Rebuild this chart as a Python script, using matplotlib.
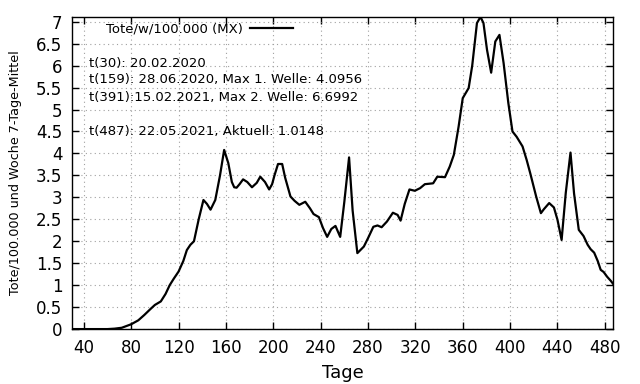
import matplotlib
matplotlib.use('Agg')
import matplotlib.pyplot as plt

days = [30, 60, 66, 72, 80, 86, 91, 96, 100, 105, 109, 112.5, 116, 120, 124, 127, 130, 133,
        137, 141, 144, 147, 151, 155, 158.5, 162, 165, 167, 169, 171.5, 174.5, 178, 182,
        186, 189, 193, 196.5, 199, 201, 204, 207.5, 210, 214.5, 218, 222, 227, 231, 234,
        238.5, 242, 245.5, 249, 252.5, 256.5, 260, 264, 267, 271, 276.5, 280, 284.5, 288,
        291.5, 296, 301, 305, 307.5, 311, 315, 319.5, 324, 328, 335, 338.5, 345, 349, 352.5,
        356.5, 360, 365, 368, 372, 375, 377.5, 380.5, 384, 387.5, 391, 394.5, 398.5, 402,
        405.5, 410.5, 414, 417, 422, 426, 428.5, 433, 437, 440, 443.5, 447, 451, 454, 458,
        462, 465.5, 468, 471, 474, 476.5, 479, 482, 485, 487]
deaths = [0.0, 0.0, 0.01, 0.03, 0.11, 0.2, 0.32, 0.45, 0.55, 0.63, 0.8, 1.0, 1.15, 1.31,
          1.55, 1.8, 1.92, 2.0, 2.5, 2.94, 2.85, 2.72, 2.94, 3.5, 4.08, 3.78, 3.35, 3.23,
          3.22, 3.3, 3.41, 3.35, 3.23, 3.33, 3.47, 3.35, 3.18, 3.3, 3.5, 3.76, 3.76, 3.45,
          3.02, 2.92, 2.83, 2.9, 2.75, 2.62, 2.55, 2.3, 2.1, 2.28, 2.35, 2.1, 2.9, 3.91,
          2.7, 1.73, 1.88, 2.07, 2.33, 2.36, 2.32, 2.45, 2.65, 2.6, 2.47, 2.85, 3.18, 3.15,
          3.21, 3.3, 3.32, 3.47, 3.46, 3.7, 3.97, 4.61, 5.26, 5.49, 6.0, 6.97, 7.11, 6.97,
          6.36, 5.84, 6.55, 6.7, 6.06, 5.15, 4.5, 4.38, 4.16, 3.85, 3.55, 3.02, 2.64, 2.73,
          2.87, 2.77, 2.49, 2.03, 3.1, 4.02, 3.09, 2.26, 2.12, 1.92, 1.82, 1.74, 1.55, 1.35,
          1.3, 1.19, 1.1, 1.03]

notes = ["t(30): 20.02.2020",
         "t(159): 28.06.2020, Max 1. Welle: 4.0956",
         "t(391):15.02.2021, Max 2. Welle: 6.6992",
         "t(487): 22.05.2021, Aktuell: 1.0148"]
note_y = [0.85, 0.798, 0.742, 0.632]

fig = plt.figure(figsize=(6.4, 3.84), dpi=100)
ax = fig.add_axes([0.1125, 0.143, 0.8455, 0.813])

ax.plot(days, deaths, color='black', lw=1.6, label='Tote/w/100.000 (MX)')

ax.set_xlim(30, 487)
ax.set_ylim(0, 7.11)
ax.set_xticks(range(40, 481, 40))
yt = [i * 0.5 for i in range(15)]
ax.set_yticks(yt)
ax.set_yticklabels(['%g' % v for v in yt])
ax.tick_params(direction='in', top=True, right=True, labelsize=12, length=5, width=1)
ax.tick_params(axis='x', pad=7)
ax.tick_params(axis='y', pad=7)
ax.grid(True, color='#a0a0a0', linestyle=(0, (1, 3)), lw=0.8)
for s in ax.spines.values():
    s.set_linewidth(1.0)

ax.set_xlabel('Tage', fontsize=13, labelpad=5)
ax.set_ylabel('Tote/100.000 und Woche 7-Tage-Mittel', fontsize=9.2, labelpad=10)

ax.legend(loc='upper left', bbox_to_anchor=(0.04, 1.02), frameon=False, markerfirst=False,
          fontsize=9.5, handlelength=3.2, handletextpad=0.6)

for t, yy in zip(notes, note_y):
    ax.text(0.031, yy, t, transform=ax.transAxes, fontsize=9.5, va='center', ha='left')

fig.savefig('out.png')
